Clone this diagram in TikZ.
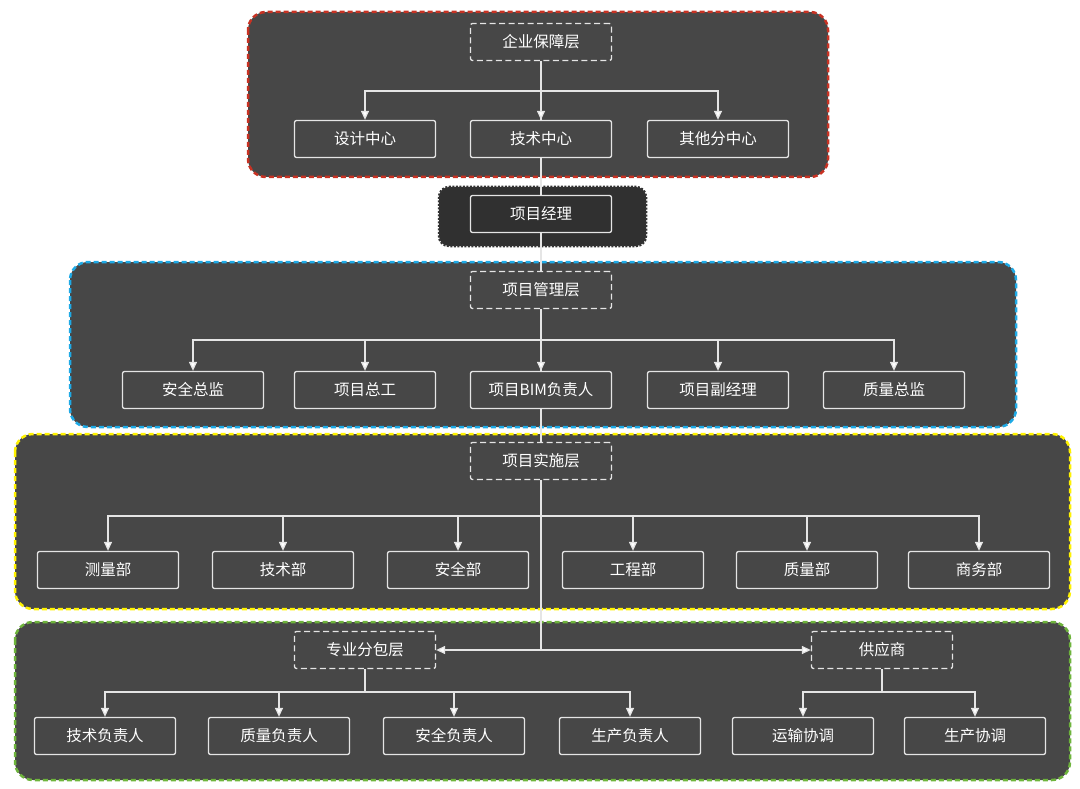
\documentclass[tikz,border=0pt]{standalone}
\usepackage{fontspec}
\setmainfont{Noto Sans CJK SC}
\usetikzlibrary{arrows.meta}
\definecolor{pan}{HTML}{474747}
\definecolor{dk}{HTML}{303030}
\begin{document}
\begin{tikzpicture}[x=1pt,y=-1pt,
 panel/.style={fill=pan,rounded corners=18pt,dash pattern=on 5pt off 3pt,line width=2.5pt},
 box/.style={draw=white!90!black,line width=1.3pt,rounded corners=2pt,minimum width=141pt,minimum height=37pt,text=white,font=\fontsize{15.5}{18}\selectfont,inner sep=0pt},
 hd/.style={box,dash pattern=on 6pt off 3.5pt},
 ln/.style={white!90!black,line width=1.3pt},
 ar/.style={ln,-{Triangle[open,fill=white,length=9pt,width=8pt]}}]
\useasboundingbox (0,0) rectangle (1080,789);
\draw[panel,draw={rgb,255:red,200;green,50;blue,35}] (248,12) rectangle (828,177);
\draw[panel,fill=dk,draw=black!80,dash pattern=on 2pt off 1.5pt,rounded corners=10pt] (439,187) rectangle (646,246);
\draw[panel,draw={rgb,255:red,30;green,170;blue,230}] (70,262) rectangle (1016,427);
\draw[panel,draw=yellow] (15,434) rectangle (1070,609);
\draw[panel,draw={rgb,255:red,110;green,180;blue,60}] (15,622) rectangle (1070,780);
\node[hd] (h1) at (541,42) {企业保障层};
\node[box] (a1) at (365,139) {设计中心};
\node[box] (a2) at (541,139) {技术中心};
\node[box] (a3) at (718,139) {其他分中心};
\node[box] (pm) at (541,214) {项目经理};
\node[hd] (h2) at (541,290) {项目管理层};
\node[box] (b1) at (193,390) {安全总监};
\node[box] (b2) at (365,390) {项目总工};
\node[box] (b3) at (541,390) {项目BIM负责人};
\node[box] (b4) at (718,390) {项目副经理};
\node[box] (b5) at (894,390) {质量总监};
\node[hd] (h3) at (541,461) {项目实施层};
\node[box] (c1) at (108,570) {测量部};
\node[box] (c2) at (283,570) {技术部};
\node[box] (c3) at (458,570) {安全部};
\node[box] (c4) at (633,570) {工程部};
\node[box] (c5) at (807,570) {质量部};
\node[box] (c6) at (979,570) {商务部};
\node[hd] (h4) at (365,650) {专业分包层};
\node[hd] (h5) at (882,650) {供应商};
\node[box] (d1) at (105,736) {技术负责人};
\node[box] (d2) at (279,736) {质量负责人};
\node[box] (d3) at (454,736) {安全负责人};
\node[box] (d4) at (630,736) {生产负责人};
\node[box] (e1) at (803,736) {运输协调};
\node[box] (e2) at (975,736) {生产协调};
\coordinate (j) at (541,650);
% trunk
\draw[ln] (h1) -- (a2);
\draw[ln] (a2) -- (pm);
\draw[ln] (pm) -- (h2);
\draw[ln] (h2.south) -- (b3);
\draw[ln] (b3) -- (h3);
\draw[ln] (h3.south) -- (j);
\draw[ar] (j) -- (h4);
\draw[ar] (j) -- (h5);
\foreach \n in {a1,a2,a3} \draw[ar] (541,91) -| (\n);
\draw[ln] (365,91) -- (718,91);
\foreach \n in {b1,b2,b3,b4,b5} \draw[ar] (541,340) -| (\n);
\draw[ln] (193,340) -- (894,340);
\foreach \n in {c1,c2,c3,c4,c5,c6} \draw[ar] (541,516) -| (\n);
\draw[ln] (108,516) -- (979,516);
\draw[ln] (h4) -- (365,692);
\foreach \n in {d1,d2,d3,d4} \draw[ar] (365,692) -| (\n);
\draw[ln] (105,692) -- (630,692);
\draw[ln] (h5) -- (882,692);
\foreach \n in {e1,e2} \draw[ar] (882,692) -| (\n);
\draw[ln] (803,692) -- (975,692);
\end{tikzpicture}
\end{document}
